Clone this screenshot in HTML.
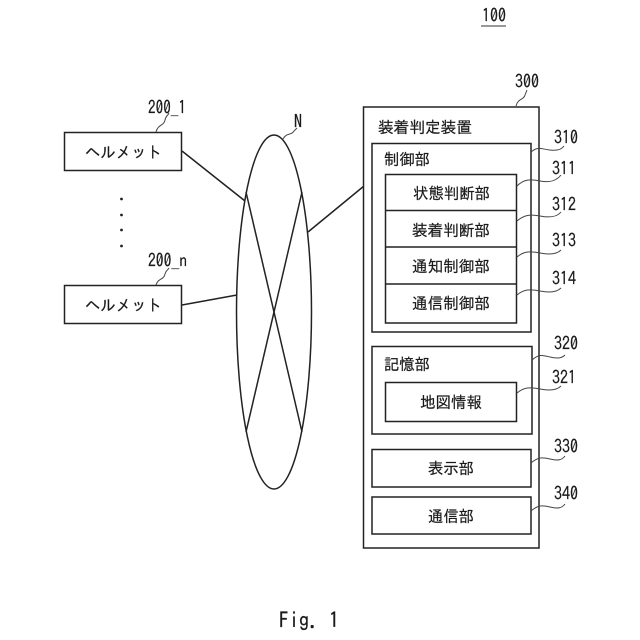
<!DOCTYPE html>
<html lang="ja">
<head>
<meta charset="utf-8">
<title>Fig. 1</title>
<style>
html,body{margin:0;padding:0;background:#fff;width:640px;height:640px;overflow:hidden}
svg{display:block}
text{font-family:"IPAGothic","Noto Sans CJK JP","Liberation Sans",sans-serif;fill:#1a1a1a;font-size:16px;stroke:#1a1a1a;stroke-width:.2}
.n{font-size:18px}
.b{fill:#fff;stroke:#222;stroke-width:1.5}
.l{fill:none;stroke:#222;stroke-width:1.5}
.w{fill:none;stroke:#444;stroke-width:1}
</style>
</head>
<body>
<svg width="640" height="640" viewBox="0 0 640 640" xmlns="http://www.w3.org/2000/svg">
<rect width="640" height="640" fill="#fff"/>

<!-- Connections -->
<line class="l" x1="182" y1="151" x2="245" y2="201"/>
<line class="l" x1="182" y1="305" x2="237" y2="295"/>
<line class="l" x1="308" y1="232" x2="364" y2="186"/>

<!-- Network -->
<ellipse class="l" cx="274" cy="312" rx="37.5" ry="177"/>
<line class="l" x1="246" y1="192" x2="302" y2="432"/>
<line class="l" x1="302" y1="192" x2="246" y2="432"/>

<!-- Helmets -->
<rect class="b" x="64.5" y="132.5" width="117" height="38"/>
<text x="85" y="158" textLength="77" lengthAdjust="spacingAndGlyphs">ヘルメット</text>
<rect class="b" x="64.5" y="285.5" width="117" height="38"/>
<text x="85" y="311" textLength="77" lengthAdjust="spacingAndGlyphs">ヘルメット</text>

<!-- Dots -->
<circle cx="121.5" cy="199" r="1.4" fill="#222"/>
<circle cx="121.5" cy="215" r="1.4" fill="#222"/>
<circle cx="121.5" cy="230" r="1.4" fill="#222"/>
<circle cx="121.5" cy="246" r="1.4" fill="#222"/>

<!-- Outer device -->
<rect class="b" x="363.5" y="107" width="175.5" height="441"/>
<text x="378" y="133" textLength="94" lengthAdjust="spacingAndGlyphs">装着判定装置</text>

<!-- Control -->
<rect class="b" x="372" y="143.5" width="159" height="188.5"/>
<text x="384" y="165" textLength="46" lengthAdjust="spacingAndGlyphs">制御部</text>
<rect class="b" x="385.5" y="174.5" width="131" height="148.5"/>
<line class="l" x1="385.5" y1="210.5" x2="516.5" y2="210.5"/>
<line class="l" x1="385.5" y1="247" x2="516.5" y2="247"/>
<line class="l" x1="385.5" y1="284" x2="516.5" y2="284"/>
<text x="413" y="199" textLength="77" lengthAdjust="spacingAndGlyphs">状態判断部</text>
<text x="412" y="236" textLength="78" lengthAdjust="spacingAndGlyphs">装着判断部</text>
<text x="412" y="272" textLength="78" lengthAdjust="spacingAndGlyphs">通知制御部</text>
<text x="412" y="309" textLength="78" lengthAdjust="spacingAndGlyphs">通信制御部</text>

<!-- Memory -->
<rect class="b" x="372" y="346.5" width="160" height="87.5"/>
<text x="384" y="370" textLength="46" lengthAdjust="spacingAndGlyphs">記憶部</text>
<rect class="b" x="385.5" y="382.5" width="131" height="39"/>
<text x="420" y="408" textLength="62" lengthAdjust="spacingAndGlyphs">地図情報</text>

<!-- Display / Comm -->
<rect class="b" x="372" y="449.5" width="159" height="37.5"/>
<text x="428" y="474" textLength="46" lengthAdjust="spacingAndGlyphs">表示部</text>
<rect class="b" x="372" y="497" width="159" height="37"/>
<text x="428" y="522" textLength="46" lengthAdjust="spacingAndGlyphs">通信部</text>

<!-- Leaders -->
<path class="w" d="M156 132 C158 124 164 126 165 120 C166 115 168 116 169 113"/>
<path class="w" d="M156 285 C158 278 164 280 165 274 C166 270 168 270 169 268"/>
<path class="w" d="M283 139 C287 132 291 136 294 131 L297 128"/>
<path class="w" d="M516 106 C518 98 524 100 525 95 L527 90"/>
<path class="w" d="M531 152 C538 146 541 149 550 150 C558 151 562 149 564 146"/>
<path class="w" d="M517 186 C524 179 530 179 540 181 C550 183 557 180 561 175"/>
<path class="w" d="M517 221 C524 215 530 214 540 216 C550 218 557 217 561 212"/>
<path class="w" d="M517 257 C524 251 530 251 540 253 C550 255 557 254 561 250"/>
<path class="w" d="M517 295 C524 289 530 289 540 291 C550 293 557 292 561 288"/>
<path class="w" d="M532 360 C539 354 542 355 550 357 C558 359 562 358 565 355"/>
<path class="w" d="M517 393 C524 387 530 387 540 389 C550 391 557 390 561 386"/>
<path class="w" d="M531 463 C538 457 542 457 550 459 C558 461 562 460 565 456"/>
<path class="w" d="M531 511 C538 505 542 505 550 507 C558 509 562 508 565 504"/>

<!-- Labels -->
<text class="n" x="482" y="22" textLength="24" lengthAdjust="spacingAndGlyphs">100</text>
<line x1="481" y1="26" x2="506" y2="26" stroke="#333" stroke-width="1"/>
<text class="n" x="515" y="88" textLength="24" lengthAdjust="spacingAndGlyphs">300</text>
<text class="n" x="148" y="114" textLength="38" lengthAdjust="spacingAndGlyphs">200_1</text>
<text class="n" x="148" y="267" textLength="39" lengthAdjust="spacingAndGlyphs">200_n</text>
<text class="n" x="294" y="128" textLength="8" lengthAdjust="spacingAndGlyphs">N</text>
<text class="n" x="554" y="144" textLength="24" lengthAdjust="spacingAndGlyphs">310</text>
<text class="n" x="552" y="175" textLength="24" lengthAdjust="spacingAndGlyphs">311</text>
<text class="n" x="552" y="211" textLength="24" lengthAdjust="spacingAndGlyphs">312</text>
<text class="n" x="552" y="247" textLength="24" lengthAdjust="spacingAndGlyphs">313</text>
<text class="n" x="552" y="285" textLength="24" lengthAdjust="spacingAndGlyphs">314</text>
<text class="n" x="554" y="350" textLength="24" lengthAdjust="spacingAndGlyphs">320</text>
<text class="n" x="552" y="384" textLength="24" lengthAdjust="spacingAndGlyphs">321</text>
<text class="n" x="554" y="453" textLength="24" lengthAdjust="spacingAndGlyphs">330</text>
<text class="n" x="554" y="500" textLength="24" lengthAdjust="spacingAndGlyphs">340</text>
<text x="279" y="628" style="font-size:22px" textLength="60" lengthAdjust="spacingAndGlyphs">Fig. 1</text>
</svg>
</body>
</html>
